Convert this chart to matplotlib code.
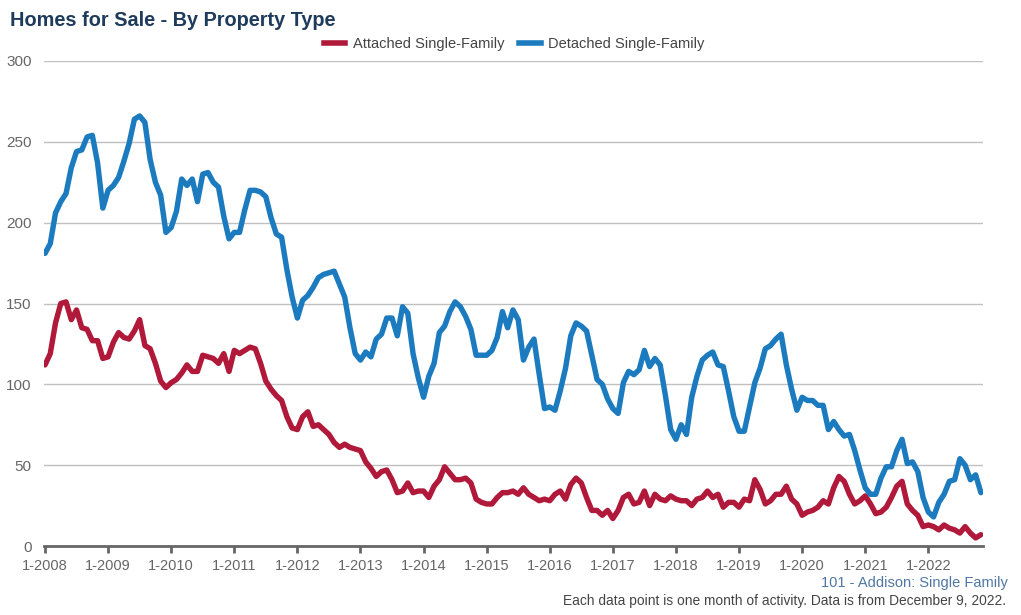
import matplotlib
matplotlib.use("Agg")
import matplotlib.pyplot as plt
from matplotlib.lines import Line2D

plt.rcParams['font.family'] = ['Liberation Sans', 'DejaVu Sans']

# ---- data ----
start_year = 2008
tick_labels = [f"1-{y}" for y in range(2008, 2023)]

attached = [112, 119, 138, 150, 151, 140, 146, 135, 134, 127, 127, 116,
            117, 126, 132, 129, 128, 133, 140, 124, 122, 113, 102, 98,
            101, 103, 107, 112, 108, 108, 118, 117, 116, 113, 119, 108,
            121, 119, 121, 123, 122, 113, 102, 97, 93, 90, 80, 73,
            72, 80, 83, 74, 75, 72, 69, 64, 61, 63, 61, 60,
            59, 52, 48, 43, 46, 47, 41, 33, 34, 39, 33, 34,
            34, 30, 37, 41, 49, 45, 41, 41, 42, 39, 29, 27,
            26, 26, 30, 33, 33, 34, 32, 36, 32, 30, 28, 29,
            28, 32, 34, 29, 38, 42, 39, 30, 22, 22, 19, 22,
            17, 22, 30, 32, 26, 27, 34, 25, 32, 29, 28, 31,
            29, 28, 28, 25, 29, 30, 34, 30, 32, 24, 27, 27,
            24, 29, 28, 41, 35, 26, 28, 32, 32, 37, 29, 26,
            19, 21, 22, 24, 28, 26, 36, 43, 40, 32, 26, 28,
            31, 26, 20, 21, 24, 30, 37, 40, 26, 22, 19, 12,
            13, 12, 10, 13, 11, 10, 8, 12, 8, 5, 7]

detached = [181, 187, 206, 213, 218, 234, 244, 245, 253, 254, 237, 209,
            220, 223, 228, 238, 249, 264, 266, 262, 239, 225, 217, 194,
            197, 207, 227, 223, 227, 213, 230, 231, 225, 222, 204, 190,
            194, 194, 208, 220, 220, 219, 216, 203, 193, 191, 171, 154,
            141, 152, 155, 160, 166, 168, 169, 170, 162, 154, 135, 119,
            115, 120, 117, 128, 131, 141, 141, 130, 148, 144, 119, 104,
            92, 105, 113, 132, 136, 145, 151, 148, 142, 134, 118, 118,
            118, 121, 129, 145, 135, 146, 140, 115, 123, 128, 106, 85,
            86, 84, 96, 110, 130, 138, 136, 133, 118, 103, 100, 91,
            85, 82, 101, 108, 106, 109, 121, 111, 116, 112, 93, 72,
            66, 75, 69, 92, 105, 115, 118, 120, 112, 111, 96, 80,
            71, 71, 86, 101, 110, 122, 124, 128, 131, 112, 97, 84,
            92, 90, 90, 87, 87, 72, 77, 72, 68, 69, 59, 47,
            36, 32, 32, 42, 49, 49, 59, 66, 51, 52, 46, 30,
            21, 18, 27, 32, 40, 41, 54, 50, 41, 44, 33]

series_names = ["Attached Single-Family", "Detached Single-Family"]
colors = ["#B0193A", "#1B7BBE"]

# ---- figure ----
W, H = 1021, 615
fig = plt.figure(figsize=(W / 100, H / 100), dpi=100)
ax = fig.add_axes([44 / W, 1 - 546 / H, (983 - 44) / W, (546 - 61) / H])

months = list(range(len(attached)))
ax.plot(months, attached, color=colors[0], lw=3.9, solid_joinstyle='round', solid_capstyle='round', zorder=3)
ax.plot(months, detached, color=colors[1], lw=3.9, solid_joinstyle='round', solid_capstyle='round', zorder=3)

ax.set_xlim(-0.19, 178.4)
ax.set_ylim(0, 300)

ax.set_yticks(range(0, 301, 50))
ax.yaxis.grid(True, color="#C0C0C0", lw=1)
ax.set_axisbelow(True)
ax.tick_params(axis='y', length=0, pad=9, labelsize=11, labelcolor="#666666")

ax.set_xticks([12 * i for i in range(len(tick_labels))])
ax.set_xticklabels(tick_labels)
ax.tick_params(axis='x', length=5, width=2, color="#666666", pad=4, labelsize=10.5, labelcolor="#666666")

for s in ["top", "right", "left"]:
    ax.spines[s].set_visible(False)
ax.spines["bottom"].set_color("#666666")
ax.spines["bottom"].set_linewidth(2)

# title
fig.text(10 / W, 1 - 20 / H, "Homes for Sale - By Property Type", fontsize=14.3, fontweight='bold',
         color="#1F3B5C", ha='left', va='center')

# legend
handles = [Line2D([0], [0], color=c, lw=4) for c in colors]
fig.legend(handles, series_names, loc='center', bbox_to_anchor=(514 / W, 1 - 44 / H), ncol=2,
           frameon=False, fontsize=10.5, handlelength=1.5, handletextpad=0.5, columnspacing=1.0,
           labelcolor="#444444")

# footer
fig.text(1008 / W, 1 - 583 / H, "101 - Addison: Single Family", fontsize=10.5, color="#4F77A3",
         ha='right', va='center')
fig.text(1006 / W, 1 - 601 / H,
         "Each data point is one month of activity. Data is from December 9, 2022.",
         fontsize=9.9, color="#444444", ha='right', va='center')

fig.savefig("out.png", dpi=100)
